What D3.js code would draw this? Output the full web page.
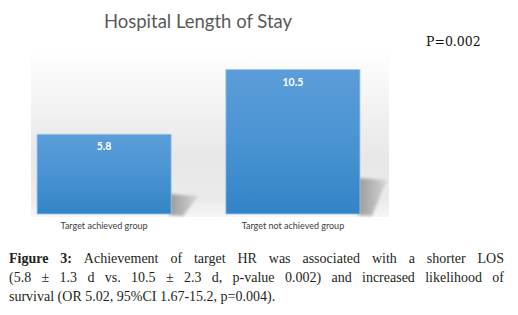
<!DOCTYPE html>
<html>
<head>
<meta charset="utf-8">
<script src="https://cdn.jsdelivr.net/npm/d3@7"></script>
<style>
  body { margin: 0; background: #fff; }
  svg { display: block; }
</style>
</head>
<body>
<svg id="chart" width="518" height="315"></svg>
<script>
const categories = ['Target achieved group', 'Target not achieved group']
const values = [5.8, 10.5]
const valueLabels = ['5.8', '10.5']
const title = 'Hospital Length of Stay'
const pLabel = 'P=0.002'
const captionLines = [
  [['Figure 3:', true], ['Achievement of target HR was associated with a shorter LOS', false]],
  [['(5.8 ± 1.3 d vs. 10.5 ± 2.3 d, p-value 0.002) and increased likelihood of', false]],
  [['survival (OR 5.02, 95%CI 1.67-15.2, p=0.004).', false]]
]

const svg = d3.select('#chart')
const defs = svg.append('defs')

// plot area background
let bg = defs.append('linearGradient').attr('id', 'bg').attr('x1', 0).attr('y1', 0).attr('x2', 0).attr('y2', 1)
bg.append('stop').attr('offset', '0%').attr('stop-color', '#ffffff')
bg.append('stop').attr('offset', '30%').attr('stop-color', '#f4f4f4')
bg.append('stop').attr('offset', '65%').attr('stop-color', '#e7e7e7')
bg.append('stop').attr('offset', '90%').attr('stop-color', '#ebebeb')
bg.append('stop').attr('offset', '100%').attr('stop-color', '#f6f6f6')

let barGrad = defs.append('linearGradient').attr('id', 'bar').attr('x1', 0).attr('y1', 0).attr('x2', 0).attr('y2', 1)
barGrad.append('stop').attr('offset', '0%').attr('stop-color', '#5b9dd8')
barGrad.append('stop').attr('offset', '50%').attr('stop-color', '#4a93d3')
barGrad.append('stop').attr('offset', '100%').attr('stop-color', '#3284c6')

let shGrad = defs.append('linearGradient').attr('id', 'sh').attr('x1', 0).attr('y1', 0).attr('x2', 1).attr('y2', 0)
shGrad.append('stop').attr('offset', '0%').attr('stop-color', '#8c8c8c')
shGrad.append('stop').attr('offset', '100%').attr('stop-color', '#d2d2d2')

defs.append('filter').attr('id', 'blur').append('feGaussianBlur').attr('stdDeviation', 1.5)

svg.append('rect')
  .attr('x', 31).attr('y', 48).attr('width', 358).attr('height', 169)
  .attr('fill', 'url(#bg)')

let x = d3.scaleBand().domain(categories).range([31, 366]).paddingInner(0.29).paddingOuter(0.032)
let y = d3.scaleLinear().domain([0, 12]).range([214, 49])

// bar shadows
svg.append('g').selectAll('path')
  .data(values)
  .join('path')
  .attr('d', (d, i) => {
    let x1 = x(categories[i]) + x.bandwidth()
    let b = y(0)
    let h = (y(0) - y(d)) * 0.25
    return 'M' + (x1 - 2) + ',' + (b + 1) + 'L' + (x1 - 2) + ',' + (b - h) +
      'L' + (x1 + 27) + ',' + (b - h + 2) + 'L' + (x1 + 12) + ',' + (b + 2) + 'Z'
  })
  .attr('fill', 'url(#sh)')
  .attr('filter', 'url(#blur)')
  .attr('opacity', 0.85)

svg.append('g').selectAll('rect')
  .data(values)
  .join('rect')
  .attr('x', (d, i) => x(categories[i]))
  .attr('y', d => y(d))
  .attr('width', x.bandwidth())
  .attr('height', d => y(0) - y(d))
  .attr('fill', 'url(#bar)')
  .attr('stroke', '#9cc4ea')
  .attr('stroke-width', 0.8)

svg.append('g').selectAll('text')
  .data(values)
  .join('text')
  .attr('x', (d, i) => x(categories[i]) + x.bandwidth() / 2)
  .attr('y', d => y(d) + 16)
  .attr('text-anchor', 'middle')
  .attr('font-family', 'Lato, "Open Sans", sans-serif')
  .attr('font-weight', 'bold')
  .attr('font-size', '10.5px')
  .attr('fill', '#ffffff')
  .text((d, i) => valueLabels[i])

let xAxis = d3.axisBottom(x).tickSize(0).tickPadding(9)
let gx = svg.append('g').attr('transform', 'translate(0,' + y(0) + ')').call(xAxis)
gx.select('.domain').remove()
gx.selectAll('text')
  .attr('font-family', 'Lato, "Open Sans", sans-serif')
  .attr('font-size', '9px')
  .attr('fill', '#404040')

svg.append('text')
  .attr('x', 198).attr('y', 28)
  .attr('text-anchor', 'middle')
  .attr('font-family', 'Lato, "Open Sans", sans-serif')
  .attr('font-size', '18.5px')
  .attr('fill', '#595959')
  .text(title)

svg.append('text')
  .attr('x', 426).attr('y', 46)
  .attr('font-family', '"DejaVu Serif", "Liberation Serif", serif')
  .attr('font-size', '12.5px')
  .attr('fill', '#111')
  .text(pLabel)

// caption, justified by hand
const capLeft = 9
const capRight = 504
const capY = [263, 282, 301]
let cap = svg.append('g')
  .attr('font-family', '"Liberation Serif", "DejaVu Serif", serif')
  .attr('font-size', '14px')
  .attr('fill', '#231f20')

captionLines.forEach((line, li) => {
  let words = []
  line.forEach(([t, bold]) => t.split(' ').forEach(w => words.push({ w, bold })))
  let nodes = words.map(o => cap.append('text')
    .attr('y', capY[li])
    .attr('font-weight', o.bold ? 'bold' : 'normal')
    .text(o.w))
  let widths = nodes.map(n => n.node().getComputedTextLength())
  let total = d3.sum(widths)
  let gap = 3.5
  if (li < captionLines.length - 1) gap = (capRight - capLeft - total) / (words.length - 1)
  let cx = capLeft
  nodes.forEach((n, i) => {
    n.attr('x', cx)
    cx += widths[i] + gap
  })
})
</script>
</body>
</html>
